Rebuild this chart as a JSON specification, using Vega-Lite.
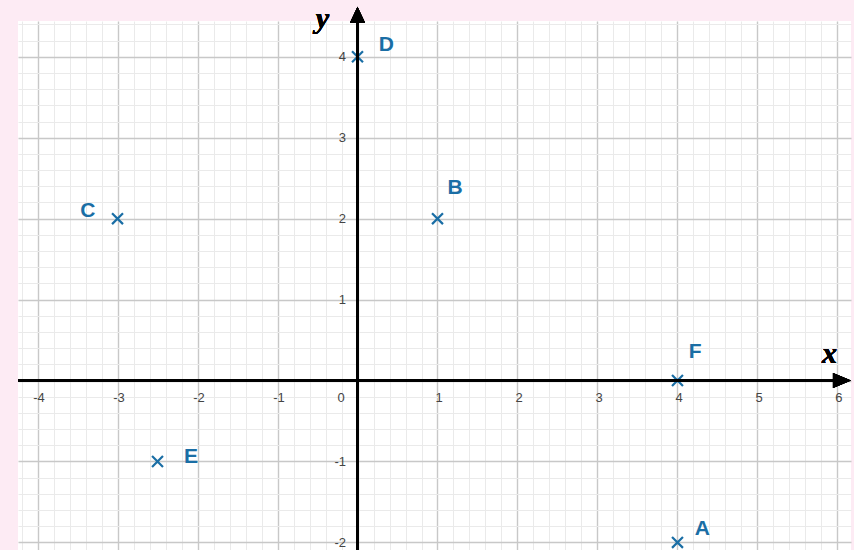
{
  "$schema": "https://vega.github.io/schema/vega-lite/v6.json",
  "width": 833,
  "height": 529,
  "autosize": {"type": "none"},
  "padding": {"left": 18, "top": 21, "right": 3, "bottom": 0},
  "background": "#fdebf4",
  "view": {"fill": "white", "stroke": null},
  "resolve": {"axis": {"x": "independent", "y": "independent"}},
  "data": {
    "values": [
      {"name": "A", "x": 4, "y": -2, "lx": 4.31, "ly": -1.84},
      {"name": "B", "x": 1, "y": 2, "lx": 1.22, "ly": 2.375},
      {"name": "C", "x": -3, "y": 2, "lx": -3.37, "ly": 2.1},
      {"name": "D", "x": 0, "y": 4, "lx": 0.36, "ly": 4.14},
      {"name": "E", "x": -2.5, "y": -1, "lx": -2.08, "ly": -0.94},
      {"name": "F", "x": 4, "y": 0, "lx": 4.22, "ly": 0.35}
    ]
  },
  "layer": [
    {
      "mark": {"type": "point", "shape": "M-1,-1L1,1M1,-1L-1,1", "filled": false, "stroke": "#1a6ea5", "strokeWidth": 2.2, "size": 120, "opacity": 1},
      "encoding": {
        "x": {
          "field": "x", "type": "quantitative",
          "scale": {"domain": [-4.244, 6.169], "nice": false, "zero": false},
          "axis": {
            "title": null, "orient": "bottom", "offset": -169.5,
            "domain": false, "ticks": false, "tickSize": 0,
            "values": [-4.2,-4,-3.8,-3.6,-3.4,-3.2,-3,-2.8,-2.6,-2.4,-2.2,-2,-1.8,-1.6,-1.4,-1.2,-1,-0.8,-0.6,-0.4,-0.2,0,0.2,0.4,0.6,0.8,1,1.2,1.4,1.6,1.8,2,2.2,2.4,2.6,2.8,3,3.2,3.4,3.6,3.8,4,4.2,4.4,4.6,4.8,5,5.2,5.4,5.6,5.8,6],
            "labelExpr": "abs(datum.value - round(datum.value)) < 0.001 ? ('' + round(datum.value)) : ''",
            "labelOffset": {"condition": {"test": "abs(datum.value) < 0.001", "value": -17}, "value": 1},
            "labelPadding": 11,
            "labelFont": "Liberation Sans", "labelFontSize": 13, "labelColor": "#444",
            "labelOverlap": false, "labelFlush": false, "labelBound": false,
            "grid": true,
            "gridColor": {"condition": {"test": "abs(datum.value - round(datum.value)) < 0.001", "value": "#c8c8c8"}, "value": "#eaeaea"},
            "gridWidth": {"condition": {"test": "abs(datum.value - round(datum.value)) < 0.001", "value": 1.4}, "value": 1},
            "gridOpacity": 1
          }
        },
        "y": {
          "field": "y", "type": "quantitative",
          "scale": {"domain": [-2.094, 4.442], "nice": false, "zero": false},
          "axis": {
            "title": null, "orient": "left", "offset": -339.5,
            "domain": false, "ticks": false, "tickSize": 0,
            "values": [-2,-1.8,-1.6,-1.4,-1.2,-1,-0.8,-0.6,-0.4,-0.2,0,0.2,0.4,0.6,0.8,1,1.2,1.4,1.6,1.8,2,2.2,2.4,2.6,2.8,3,3.2,3.4,3.6,3.8,4,4.2,4.4],
            "labelExpr": "abs(datum.value - round(datum.value)) < 0.001 && abs(datum.value) > 0.001 ? ('' + round(datum.value)) : ''",
            "labelPadding": 12,
            "labelFont": "Liberation Sans", "labelFontSize": 13, "labelColor": "#444",
            "labelOverlap": false, "labelFlush": false, "labelBound": false,
            "grid": true,
            "gridColor": {"condition": {"test": "abs(datum.value - round(datum.value)) < 0.001", "value": "#c8c8c8"}, "value": "#eaeaea"},
            "gridWidth": {"condition": {"test": "abs(datum.value - round(datum.value)) < 0.001", "value": 1.4}, "value": 1},
            "gridOpacity": 1
          }
        }
      }
    },
    {
      "mark": {"type": "rule", "color": "black", "strokeWidth": 2.6},
      "encoding": {"x": {"datum": -4.244, "axis": null}, "x2": {"datum": 5.95}, "y": {"datum": 0, "axis": null}}
    },
    {
      "mark": {"type": "rule", "color": "black", "strokeWidth": 2.6},
      "encoding": {"x": {"datum": 0, "axis": null}, "y": {"datum": -2.094, "axis": null}, "y2": {"datum": 4.5}}
    },
    {
      "mark": {"type": "point", "shape": "M-1,-0.83L1,0L-1,0.83Z", "filled": true, "color": "black", "size": 324, "opacity": 1},
      "encoding": {"x": {"datum": 6.056, "axis": null}, "y": {"datum": 0, "axis": null}}
    },
    {
      "mark": {"type": "point", "shape": "M-0.94,1L0,-1L0.94,1Z", "filled": true, "color": "black", "size": 256, "opacity": 1},
      "encoding": {"x": {"datum": 0, "axis": null}, "y": {"datum": 4.518, "axis": null}}
    },
    {
      "mark": {"type": "text", "font": "Liberation Sans", "fontWeight": "bold", "fontSize": 21, "color": "#1a6ea5", "align": "center", "baseline": "middle"},
      "encoding": {
        "x": {"field": "lx", "type": "quantitative", "axis": null},
        "y": {"field": "ly", "type": "quantitative", "axis": null},
        "text": {"field": "name"}
      }
    },
    {
      "mark": {"type": "text", "font": "Liberation Serif", "fontWeight": "bold", "fontStyle": "italic", "fontSize": 30, "color": "black", "align": "center", "baseline": "middle"},
      "encoding": {"x": {"datum": 5.9, "axis": null}, "y": {"datum": 0.33, "axis": null}, "text": {"value": "x"}}
    },
    {
      "mark": {"type": "text", "font": "Liberation Serif", "fontWeight": "bold", "fontStyle": "italic", "fontSize": 30, "color": "black", "align": "center", "baseline": "middle"},
      "encoding": {"x": {"datum": -0.44, "axis": null}, "y": {"datum": 4.47, "axis": null}, "text": {"value": "y"}}
    }
  ]
}
